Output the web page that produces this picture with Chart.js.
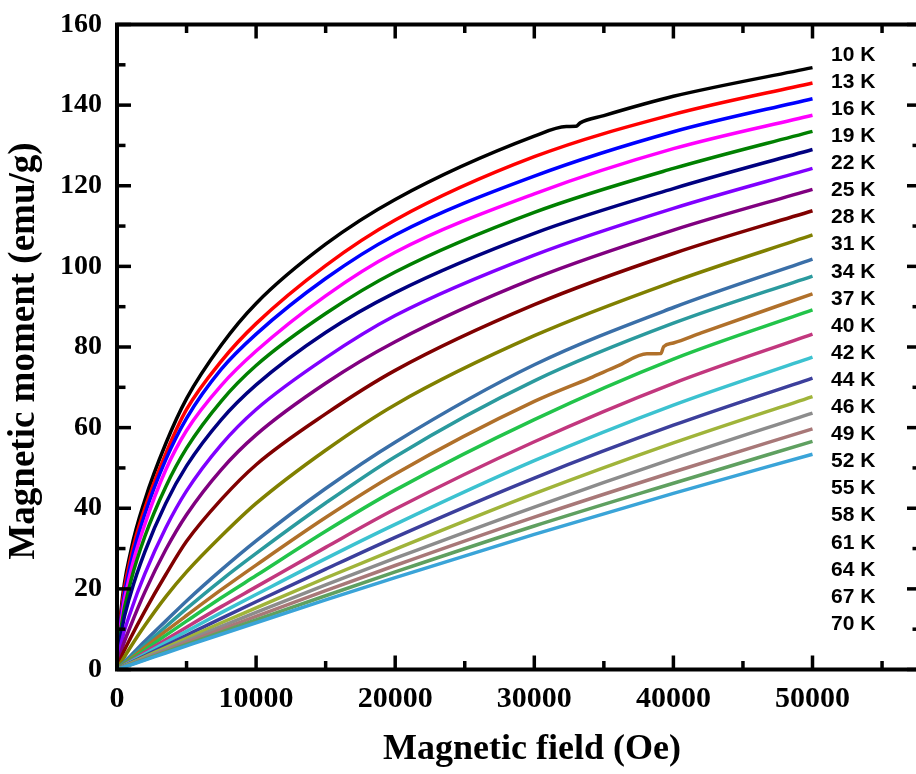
<!DOCTYPE html>
<html>
<head>
<meta charset="utf-8">
<title>Magnetic moment vs field</title>
<script src="https://cdn.jsdelivr.net/npm/chart.js@4.4.1/dist/chart.umd.min.js"></script>
<style>
    html, body { margin: 0; padding: 0; background: #fff; overflow: hidden; }
    #zone { width: 930px; height: 774px; }
</style>
</head>
<body>
<div id="zone"><canvas id="graphe" width="930" height="774"></canvas></div>
<script>
//Donnees
/**************************************************************************************************/
const fieldOe = [0, 300, 1000, 2000, 3500, 5000, 7500, 10000, 15000, 20000, 30000, 40000, 50000];

const fieldTicks = [0, 10000, 20000, 30000, 40000, 50000];
const momentTicks = [0, 20, 40, 60, 80, 100, 120, 140, 160];

const temperatures = ["10 K", "13 K", "16 K", "19 K", "22 K", "25 K", "28 K", "31 K", "34 K", "37 K", "40 K",
                      "42 K", "44 K", "46 K", "49 K", "52 K", "55 K", "58 K", "61 K", "64 K", "67 K", "70 K"];

const m10K = [0, 15, 29.5, 42, 56, 67.2, 80.5, 90.8, 105.5, 116.6, 132.3, 142.2, 149.3];
const m13K = [0, 14, 28, 40, 53.5, 64.5, 76.5, 85.8, 100.2, 111.5, 127.2, 137.7, 145.5];
const m16K = [0, 13, 26.5, 38.5, 52, 62.3, 74.5, 83.2, 97, 107.8, 122.4, 133.4, 141.6];
const m19K = [0, 12, 24.5, 36, 49.5, 59.3, 70.5, 79, 92.7, 103.5, 118, 129.2, 137.5];
const m22K = [0, 10.5, 22, 33, 45.3, 54.9, 66.6, 75.4, 88.3, 98.6, 113.4, 124.3, 133.5];
const m25K = [0, 9, 19, 29.2, 41.2, 50.5, 62, 70.6, 83.6, 93.5, 108.2, 119.3, 129];
const m28K = [0, 6.5, 14.5, 23.7, 35.1, 44.3, 55.8, 64.5, 77.3, 87.8, 102.8, 114.4, 124.3];
const m31K = [0, 4.5, 11, 19.2, 29.7, 38.4, 49.6, 58.2, 71, 81.3, 97, 109, 119.1];
const m34K = [0, 3, 8, 14.5, 23.5, 31.8, 42.2, 50.8, 63.4, 74.2, 90.5, 103.2, 113.8];
const m37K = [0, 1.8, 5.7, 10.9, 18, 24.2, 33.1, 41.2, 54.4, 65.7, 82.8, 96.2, 107.8];
const m40K = [0, 1.07, 3.5, 7, 12, 17, 24.7, 31.9, 44.9, 56.4, 75.6, 89.8, 101.8];
const m42K = [0, 0.93, 3.1, 6.1, 10.6, 15.1, 22.2, 28.8, 41.3, 52.8, 71.6, 85.9, 97.6];
const m44K = [0, 0.83, 2.74, 5.46, 9.5, 13.4, 19.8, 25.9, 37.7, 48.5, 66.5, 81, 93.2];
const m46K = [0, 0.74, 2.44, 4.86, 8.46, 12, 17.8, 23.3, 34.3, 44.5, 62, 77, 89.2];
const m49K = [0, 0.65, 2.14, 4.26, 7.4, 10.5, 15.6, 20.5, 30.3, 39.8, 56.5, 71, 83.2];
const m52K = [0, 0.58, 1.92, 3.83, 6.68, 9.5, 14.1, 18.6, 27.5, 36, 51.8, 65.6, 77.5];
const m55K = [0, 0.52, 1.71, 3.41, 5.96, 8.5, 12.7, 16.8, 24.9, 32.8, 47.5, 60.6, 72.3];
const m58K = [0, 0.47, 1.56, 3.11, 5.44, 7.75, 11.6, 15.3, 22.7, 29.8, 43.6, 56.2, 67.7];
const m61K = [0, 0.43, 1.43, 2.86, 5, 7.13, 10.7, 14.2, 21, 27.6, 40.3, 52.3, 63.6];
const m64K = [0, 0.4, 1.33, 2.66, 4.66, 6.64, 9.95, 13.2, 19.55, 25.8, 37.8, 49, 59.7];
const m67K = [0, 0.37, 1.24, 2.48, 4.34, 6.2, 9.28, 12.3, 18.3, 24.2, 35.6, 46.2, 56.6];
const m70K = [0, 0.35, 1.17, 2.34, 4.1, 5.85, 8.75, 11.6, 17.25, 22.8, 33.5, 43.7, 53.4];

//petits sauts visibles sur les courbes 10 K et 44 K (points en plus)
const saut10K = [[32300, 134.7], [33000, 134.75], [33300, 135.6], [35000, 137.4], [37500, 139.9]];
const saut44K = [[34000, 72.3], [36000, 75.3], [38100, 78.3], [39100, 78.4], [39300, 80.1], [42000, 83.5]];

const couleurs = ["#000000", "#ff0000", "#0000ff", "#ff00ff", "#008000", "#000080", "#8000ff", "#800080",
                  "#800000", "#808000", "#3a6fa8", "#2b9a9e", "#b0702a", "#22c44a", "#c2377e", "#3cc2d0",
                  "#3c3f9c", "#a0b43a", "#8c8c8c", "#a87878", "#5fa060", "#3aa4d8"];
/**************************************************************************************************/

const moments = [m10K, m13K, m16K, m19K, m22K, m25K, m28K, m31K, m34K, m37K, m40K,
                 m42K, m44K, m46K, m49K, m52K, m55K, m58K, m61K, m64K, m67K, m70K];
const sauts = {0: saut10K, 12: saut44K};

function points(valeurs, extra) {
    let pts = fieldOe.map((h, i) => ({x: h, y: valeurs[i]}));
    if (extra) extra.forEach(p => pts.push({x: p[0], y: p[1]}));
    return pts.sort((a, b) => a.x - b.x);
}

//Cadre, graduations vers l'interieur, etiquettes et titres
const cadre = {
    id: 'cadre',
    afterDatasetsDraw(chart) {
        const ctx = chart.ctx, a = chart.chartArea;
        const x = chart.scales.x, y = chart.scales.y;
        const trait = (x1, y1, x2, y2) => { ctx.beginPath(); ctx.moveTo(x1, y1); ctx.lineTo(x2, y2); ctx.stroke(); };

        ctx.save();
        ctx.strokeStyle = "#000";
        ctx.lineWidth = 3.5;
        for (let v = 0; v <= x.max; v += 5000) {
            let px = x.getPixelForValue(v);
            let l = (v % 10000 === 0) ? 14 : 8.5;
            trait(px, a.bottom, px, a.bottom - l);
            trait(px, a.top, px, a.top + l);
        }
        for (let v = 0; v <= y.max; v += 10) {
            let py = y.getPixelForValue(v);
            let l = (v % 20 === 0) ? 14 : 8.5;
            trait(a.left, py, a.left + l, py);
            trait(a.right, py, a.right - l, py);
        }
        ctx.lineWidth = 4;
        ctx.strokeRect(a.left, a.top, a.right - a.left, a.bottom - a.top);

        ctx.fillStyle = "#000";
        ctx.textBaseline = "middle";
        ctx.textAlign = "left";
        ctx.font = 'bold 21px "Liberation Sans"';
        temperatures.forEach((t, i) => ctx.fillText(t, a.left + 714, a.top + 30.5 + i * 27.1));

        ctx.textAlign = "center";
        ctx.font = 'bold 36px "Liberation Serif"';
        ctx.fillText("Magnetic field (Oe)", a.left + 415, a.bottom + 80.5);
        ctx.font = 'bold 37px "Liberation Serif"';
        ctx.translate(24, (a.top + a.bottom) / 2 + 4);
        ctx.rotate(-Math.PI / 2);
        ctx.fillText("Magnetic moment (emu/g)", 0, 0);
        ctx.restore();
    }
};

const policeTicks = {family: "Liberation Serif", weight: "bold"};

new Chart(document.getElementById("graphe"), {
    type: "line",
    data: {
        datasets: temperatures.map((t, i) => ({
            label: t,
            data: points(moments[i], sauts[i]),
            borderColor: couleurs[i],
            backgroundColor: couleurs[i],
            borderWidth: 3.5,
            pointRadius: 0,
            fill: false,
            cubicInterpolationMode: "monotone",
            order: temperatures.length - 1 - i
        }))
    },
    options: {
        responsive: false,
        animation: false,
        devicePixelRatio: 1,
        layout: { padding: { top: 24.5, right: 9, left: 0, bottom: 0 } },
        plugins: { legend: { display: false }, tooltip: { enabled: false } },
        scales: {
            x: {
                type: "linear", min: 0, max: 57800,
                afterBuildTicks: s => { s.ticks = fieldTicks.map(v => ({value: v})); },
                afterFit: s => { s.height = 104.5; s.paddingLeft = 0; s.paddingRight = 0; },
                grid: { display: false, drawTicks: false },
                border: { display: false },
                ticks: {
                    autoSkip: false, maxRotation: 0, padding: 12, color: "#000",
                    font: Object.assign({size: 30}, policeTicks),
                    callback: v => String(v)
                }
            },
            y: {
                type: "linear", min: 0, max: 160,
                afterBuildTicks: s => { s.ticks = momentTicks.map(v => ({value: v})); },
                afterFit: s => { s.width = 117; s.paddingTop = 0; s.paddingBottom = 0; },
                grid: { display: false, drawTicks: false },
                border: { display: false },
                ticks: {
                    autoSkip: false, padding: 15, color: "#000",
                    font: Object.assign({size: 28}, policeTicks),
                    callback: v => String(v)
                }
            }
        }
    },
    plugins: [cadre]
});
</script>
</body>
</html>
